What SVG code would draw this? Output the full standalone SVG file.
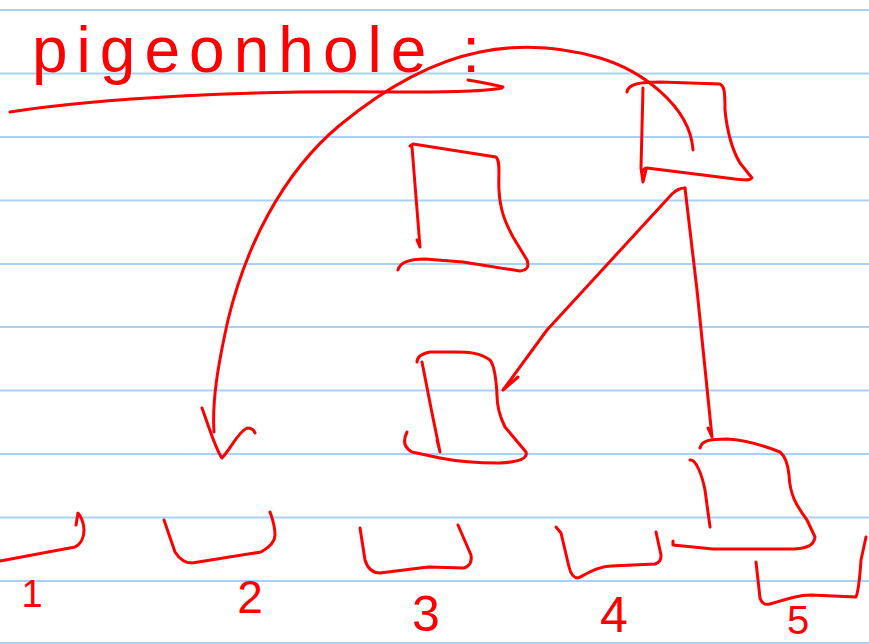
<svg xmlns="http://www.w3.org/2000/svg" width="869" height="644" viewBox="0 0 869 644">
<style>
.rule{stroke:#a9d1f7;stroke-width:2;fill:none}
.ink{stroke:#ff0000;stroke-width:3;fill:none;stroke-linecap:round;stroke-linejoin:round}
.txt{fill:#ff0000;font-family:"Liberation Sans",Arial,sans-serif}
</style>
<rect width="869" height="644" fill="#ffffff"/>
<g id="ruled-lines">
<line class="rule" x1="0" y1="10" x2="869" y2="10"/>
<line class="rule" x1="0" y1="73.5" x2="869" y2="73.5"/>
<line class="rule" x1="0" y1="137" x2="869" y2="137"/>
<line class="rule" x1="0" y1="200.5" x2="869" y2="200.5"/>
<line class="rule" x1="0" y1="264" x2="869" y2="264"/>
<line class="rule" x1="0" y1="327" x2="869" y2="327"/>
<line class="rule" x1="0" y1="390.5" x2="869" y2="390.5"/>
<line class="rule" x1="0" y1="454" x2="869" y2="454"/>
<line class="rule" x1="0" y1="517.5" x2="869" y2="517.5"/>
<line class="rule" x1="0" y1="581" x2="869" y2="581"/>
<line class="rule" x1="0" y1="643" x2="869" y2="643"/>
</g>
<g id="title">
<text class="txt" x="32" y="72" font-size="64" textLength="448" lengthAdjust="spacing">pigeonhole :</text>
<path class="ink" d="M10,112 C100,98 250,90 390,92 C440,92 480,92 502,88"/>
<path class="ink" d="M468,80 C480,82 495,85 503,87"/>
</g>
<g id="box-top-right">
<path class="ink" d="M627,92 C628,84 640,82 660,82 L720,84 C724,86 725,90 725,110 C727,130 731,148 740,163 L752,178 C750,181 745,180 735,179 L647,168 C644,168 643,170 642,172"/>
<path class="ink" d="M643,88 L641,168 L643,182 L646,170"/>
</g>
<g id="box-top-middle">
<path class="ink" d="M398,270 C400,262 410,259 425,259 L463,262 L520,271 C528,270 529,266 527,260 L513,237 C505,222 500,210 499,190 C498,175 501,162 496,157 L413,144 L410,146"/>
<path class="ink" d="M412,147 L420,247 L417,240"/>
</g>
<g id="box-middle">
<path class="ink" d="M407,432 C403,440 403,447 412,452 L440,458 C460,462 480,463 500,463 C520,462 528,458 526,452 L505,427 C499,415 497,405 497,395 C496,375 494,365 490,360 C480,353 470,352 455,352 L430,352 C420,354 417,358 417,362"/>
<path class="ink" d="M422,362 L432,413 L440,452 L437,440"/>
</g>
<g id="box-bottom-right">
<path class="ink" d="M700,448 C702,441 708,439 727,439 C745,440 765,446 780,452 C786,457 788,465 789,475 C790,495 796,505 807,520 L815,537 C814,545 808,548 795,549 L713,549 L673,545 L673,541"/>
<path class="ink" d="M690,460 C696,459 702,475 705,490 L710,527"/>
</g>
<g id="slot-1">
<path class="ink" d="M0,561 L75,547 C81,544 84,537 84,530 C84,522 80,515 78,513 L76,525"/>
<text class="txt" x="32" y="607" font-size="38" text-anchor="middle">1</text>
</g>
<g id="slot-2">
<path class="ink" d="M164,520 L175,552 C180,560 186,563 192,563 L261,552 C270,547 275,542 275,535 C275,525 272,518 270,512"/>
<text class="txt" x="250" y="613" font-size="46" text-anchor="middle">2</text>
</g>
<g id="slot-3">
<path class="ink" d="M360,528 L365,560 C368,570 374,573 380,573 L428,567 L464,568 C470,566 472,561 471,555 L458,525"/>
<text class="txt" x="426" y="631" font-size="50" text-anchor="middle">3</text>
</g>
<g id="slot-4">
<path class="ink" d="M556,527 L561,533 L569,567 C571,575 574,578 578,578 C590,572 600,566 611,566 L655,564 C660,562 661,560 661,555 L656,532"/>
<text class="txt" x="614" y="632" font-size="50" text-anchor="middle">4</text>
</g>
<g id="slot-5">
<path class="ink" d="M756,562 L760,598 C762,604 765,605 770,604 C790,598 800,595 811,595 L856,597 C859,590 860,575 861,560 L866,537"/>
<text class="txt" x="798" y="634" font-size="40" text-anchor="middle">5</text>
</g>
<g id="connectors">
<path class="ink" d="M693,150 C690,105 640,70 600,58 C560,46 520,44 480,52 C430,62 385,88 340,125 C280,175 245,250 228,320 C218,365 212,400 214,432"/>
<path class="ink" d="M202,408 C210,430 216,450 222,458 C230,450 238,432 247,428 C251,428 254,430 255,433"/>
<path class="ink" d="M685,188 C680,188 676,190 672,194 L547,330 L503,390 L518,377"/>
<path class="ink" d="M685,188 L697,290 L712,437 L708,428"/>
</g>
</svg>
